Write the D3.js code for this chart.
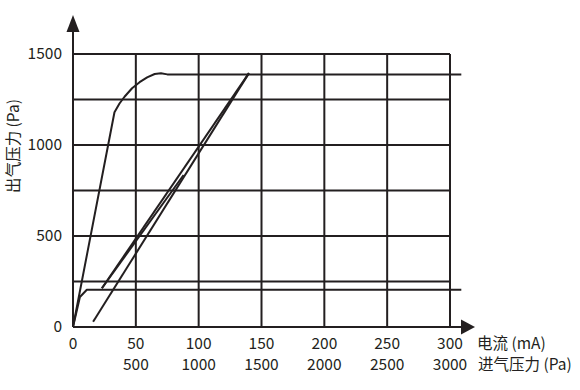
<!DOCTYPE html>
<html>
<head>
<meta charset="utf-8">
<script src="https://cdn.jsdelivr.net/npm/d3@7"></script>
<style>
  body { margin: 0; background: #fff; }
  text { font-family: "Noto Sans CJK SC", "Noto Sans", sans-serif; fill: #231f20; }
</style>
</head>
<body>
<div id="chart"></div>
<script>
// tick values / labels
const xTicks = [0, 50, 100, 150, 200, 250, 300];
const xTicks2 = ['', '500', '1000', '1500', '2000', '2500', '3000'];
const yTicks = [0, 500, 1000, 1500];
const gridX = [50, 100, 150, 200, 250, 300];
const gridY = [250, 500, 750, 1000, 1250, 1500];

// curves (current mA, pressure Pa)
const curveA = [[0, 0], [33, 1180], [37, 1228], [41, 1265], [47, 1312], [53, 1345], [59, 1372], [65, 1390], [70, 1394], [75, 1388], [309, 1388]];
const curveB = [[0, 0], [5.5, 165], [11, 205], [309, 205]];
const lineC1 = [[23, 213], [140, 1395]];
const lineC2 = [[23, 213], [88, 835]];
const lineD = [[16, 29], [140, 1395]];

const width = 580, height = 390;
const ink = '#231f20';

const svg = d3.select('#chart').append('svg')
    .attr('width', width)
    .attr('height', height);

const x = d3.scaleLinear().domain([0, 300]).range([73, 450]);
const y = d3.scaleLinear().domain([0, 1500]).range([327, 54]);

// grid
svg.append('g').selectAll('line')
    .data(gridY)
    .enter().append('line')
    .attr('x1', x(0)).attr('x2', x(300))
    .attr('y1', d => y(d)).attr('y2', d => y(d))
    .attr('stroke', ink).attr('stroke-width', 2);

svg.append('g').selectAll('line')
    .data(gridX)
    .enter().append('line')
    .attr('x1', d => x(d)).attr('x2', d => x(d))
    .attr('y1', y(0)).attr('y2', y(1500))
    .attr('stroke', ink).attr('stroke-width', 2);

// axes with arrows
svg.append('line')
    .attr('x1', x(0)).attr('x2', 463)
    .attr('y1', y(0)).attr('y2', y(0))
    .attr('stroke', ink).attr('stroke-width', 2);
svg.append('path')
    .attr('d', `M461,${y(0) - 7.5} L475,${y(0)} L461,${y(0) + 7.5} Z`)
    .attr('fill', ink);

svg.append('line')
    .attr('x1', x(0)).attr('x2', x(0))
    .attr('y1', y(0)).attr('y2', 30)
    .attr('stroke', ink).attr('stroke-width', 2);
svg.append('path')
    .attr('d', `M${x(0) - 6.5},32 L${x(0)},15 L${x(0) + 6.5},32 Z`)
    .attr('fill', ink);

// curves
const line = d3.line().x(d => x(d[0])).y(d => y(d[1]));
[curveA, curveB, lineC1, lineC2, lineD].forEach(s => {
    svg.append('path')
        .attr('d', line(s))
        .attr('fill', 'none')
        .attr('stroke', ink)
        .attr('stroke-width', 2)
        .attr('stroke-linejoin', 'round');
});

// y tick labels
svg.append('g').selectAll('text')
    .data(yTicks)
    .enter().append('text')
    .attr('x', 62)
    .attr('y', d => y(d))
    .attr('dy', '0.35em')
    .attr('text-anchor', 'end')
    .attr('font-size', 15.5)
    .text(d => d);

// x tick labels, two rows
svg.append('g').selectAll('text')
    .data(xTicks)
    .enter().append('text')
    .attr('x', d => x(d))
    .attr('y', 344)
    .attr('dy', '0.35em')
    .attr('text-anchor', 'middle')
    .attr('font-size', 15.5)
    .text(d => d);

svg.append('g').selectAll('text')
    .data(xTicks2)
    .enter().append('text')
    .attr('x', (d, i) => x(xTicks[i]))
    .attr('y', 365)
    .attr('dy', '0.35em')
    .attr('text-anchor', 'middle')
    .attr('font-size', 15.5)
    .text(d => d);

// axis titles
svg.append('text')
    .attr('x', 477).attr('y', 344).attr('dy', '0.35em')
    .attr('font-size', 15.5)
    .text('电流 (mA)');
svg.append('text')
    .attr('x', 478).attr('y', 365).attr('dy', '0.35em')
    .attr('font-size', 15.5)
    .text('进气压力 (Pa)');

svg.append('text')
    .attr('transform', 'translate(14,146) rotate(-90)')
    .attr('dy', '0.35em')
    .attr('text-anchor', 'middle')
    .attr('font-size', 15.5)
    .text('出气压力 (Pa)');
</script>
</body>
</html>
